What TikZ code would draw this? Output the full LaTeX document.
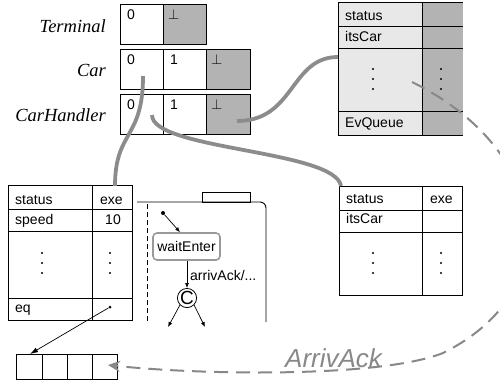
\documentclass[tikz,border=0pt]{standalone}
\usepackage{fontspec}
\setmainfont{Liberation Sans}
\newfontfamily\serfont{Liberation Serif}
\usetikzlibrary{arrows.meta}
\definecolor{cellgray}{HTML}{B3B3B3}
\definecolor{lightfill}{HTML}{E8E8E8}
\definecolor{linkgray}{HTML}{8C8C8C}
\definecolor{dashgray}{HTML}{888888}
\definecolor{boxgray}{HTML}{999999}
\begin{document}
\begin{tikzpicture}[x=1pt,y=-1pt,
  txt/.style={anchor=base west, inner sep=0pt, font=\fontsize{14}{16}\selectfont},
  txtr/.style={anchor=base east, inner sep=0pt, font=\fontsize{14}{16}\selectfont},
  lbl/.style={anchor=base east, inner sep=0pt, font=\serfont\itshape\fontsize{18.5}{22}\selectfont},
  frameline/.style={line width=0.9pt},
  link/.style={draw=linkgray, line width=3.8pt},
  dotc/.style={circle, fill=black, inner sep=0pt, minimum size=2.2pt},
  smallarrow/.style={line width=0.7pt, -{Latex[length=5pt,width=4pt]}}]
\useasboundingbox (0,0) rectangle (500,383);

% ---------- top rows ----------
\fill[cellgray] (163,4) rectangle (206,44);
\draw[frameline] (120,4) rectangle (206,44) (163,4) -- (163,44);
\fill[cellgray] (206,49) rectangle (250,89);
\draw[frameline] (120,49) rectangle (250,89) (163,49) -- (163,89) (206,49) -- (206,89);
\fill[cellgray] (206,94) rectangle (250,134);
\draw[frameline] (120,94) rectangle (250,134) (163,94) -- (163,134) (206,94) -- (206,134);

\node[lbl] (lterm) at (106,32) {Terminal};
\node[lbl] (lcar) at (106,76) {Car};
\node[lbl] (lch) at (106,121) {CarHandler};

\node[txt] (t0) at (127,19) {0};
\node[txt] (t1) at (168,19) {$\perp$};
\node[txt] (c0) at (127,64) {0};
\node[txt] (c1) at (170,64) {1};
\node[txt] (c2) at (211,64) {$\perp$};
\node[txt] (h0) at (127,109) {0};
\node[txt] (h1) at (170,109) {1};
\node[txt] (h2) at (211,109) {$\perp$};

% ---------- top right object ----------
\fill[lightfill] (338,2) rectangle (422,135);
\fill[cellgray] (422,2) rectangle (463,135);
\draw[frameline] (463,2) -- (338,2) -- (338,135) -- (463,135);
\draw[frameline] (422,2) -- (422,135);
\draw[frameline] (338,26) -- (463,26) (338,48) -- (463,48) (338,111) -- (463,111);
\node[txt] (os) at (345,20) {status};
\node[txt] (oc) at (345,41) {itsCar};
\node[txt] (oq) at (345,127) {EvQueue};
\foreach \yy in {69,79,89} {
  \node[dotc] at (373,\yy) {};
  \node[dotc] at (441,\yy) {};
}

% ---------- left object ----------
\draw[frameline] (8,185) rectangle (132,320);
\draw[frameline] (92,185) -- (92,320);
\draw[frameline] (8,209) -- (132,209) (8,231) -- (132,231) (8,298) -- (132,298);
\node[txt] (ls) at (15,204) {status};
\node[txt] (le) at (100,204) {exe};
\node[txt] (lsp) at (15,224) {speed};
\node[txtr] (l10) at (121,224) {10};
\node[txt] (leq) at (15,312) {eq};
\foreach \yy in {253,263,273} {
  \node[dotc] at (42,\yy) {};
  \node[dotc] at (110,\yy) {};
}
\node[dotc, minimum size=3pt] (eqdot) at (110,307) {};

% queue
\draw[frameline] (16,354) rectangle (117,379);
\draw[frameline] (42,354) -- (42,379) (67,354) -- (67,379) (92,354) -- (92,379);
\coordinate (qin) at (30,354);
\coordinate (qend) at (108,365);
\draw[smallarrow, -{Latex[length=8pt,width=5pt]}] (eqdot) -- (qin);

% ---------- right bottom object ----------
\draw[frameline] (339,186) rectangle (462,295);
\draw[frameline] (422,186) -- (422,295);
\draw[frameline] (339,210) -- (462,210) (339,232) -- (462,232);
\node[txt] (rs) at (346,203) {status};
\node[txt] (re) at (430,203) {exe};
\node[txt] (rc) at (346,223) {itsCar};
\foreach \yy in {253,263,273} {
  \node[dotc] at (373,\yy) {};
  \node[dotc] at (441,\yy) {};
}

% ---------- state machine ----------
\draw[frameline, rounded corners=6pt] (137,202) -- (266,202) -- (266,322);
\draw[frameline] (202,192) rectangle (250,202);
\draw[line width=0.8pt, dash pattern=on 5pt off 3pt] (147,204) -- (147,321);
\node[dotc, minimum size=4pt] (init) at (163,213) {};
\node[draw=boxgray, line width=1.6pt, rounded corners=4pt, minimum width=67pt, minimum height=27pt, inner sep=0pt, font=\fontsize{14}{16}\selectfont] (wait) at (186.5,246.5) {waitEnter};
\draw[smallarrow] (init) -- (wait.north west -| 180,0);
\node[draw, circle, line width=0.8pt, minimum size=19pt, inner sep=0pt, font=\fontsize{19}{20}\selectfont] (cc) at (187,298) {C};
\draw[smallarrow] (wait.south -| cc) -- (cc.north);
\node[txt] (arr) at (190,280) {arrivAck/...};
\coordinate (cl) at (168,327);
\coordinate (cr) at (205,327);
\draw[smallarrow] (cc.225) -- (cl);
\draw[smallarrow] (cc.-45) -- (cr);

% ---------- gray links ----------
\coordinate (carp) at (143,76);
\coordinate (chp) at (152,115);
\coordinate (chq) at (237,121);
\coordinate (ltop) at (115,186);
\coordinate (rtop) at (341,186);
\coordinate (otop) at (338,57);
\draw[link] (carp) .. controls (143,140) and (115,130) .. (ltop);
\draw[link] (chp) .. controls (152,150) and (335,150) .. (rtop);
\draw[link] (chq) .. controls (295,121) and (290,57) .. (otop);

% ---------- ArrivAck dashed ----------
\coordinate (evq) at (412,82);
\coordinate (mid) at (443,353);
\begin{scope}
\clip (0,0) rectangle (500,383);
\draw[draw=dashgray, line width=2pt, dash pattern=on 14pt off 8pt, -{Stealth[length=12pt,width=11pt]}]
  (evq) .. controls (550,150) and (570,290) .. (mid)
  .. controls (380,378) and (200,375) .. (qend);
\end{scope}
\node[anchor=base west, inner sep=0pt, text=dashgray, font=\itshape\fontsize{26}{28}\selectfont] (ack) at (285,367) {ArrivAck};
\end{tikzpicture}
\end{document}
